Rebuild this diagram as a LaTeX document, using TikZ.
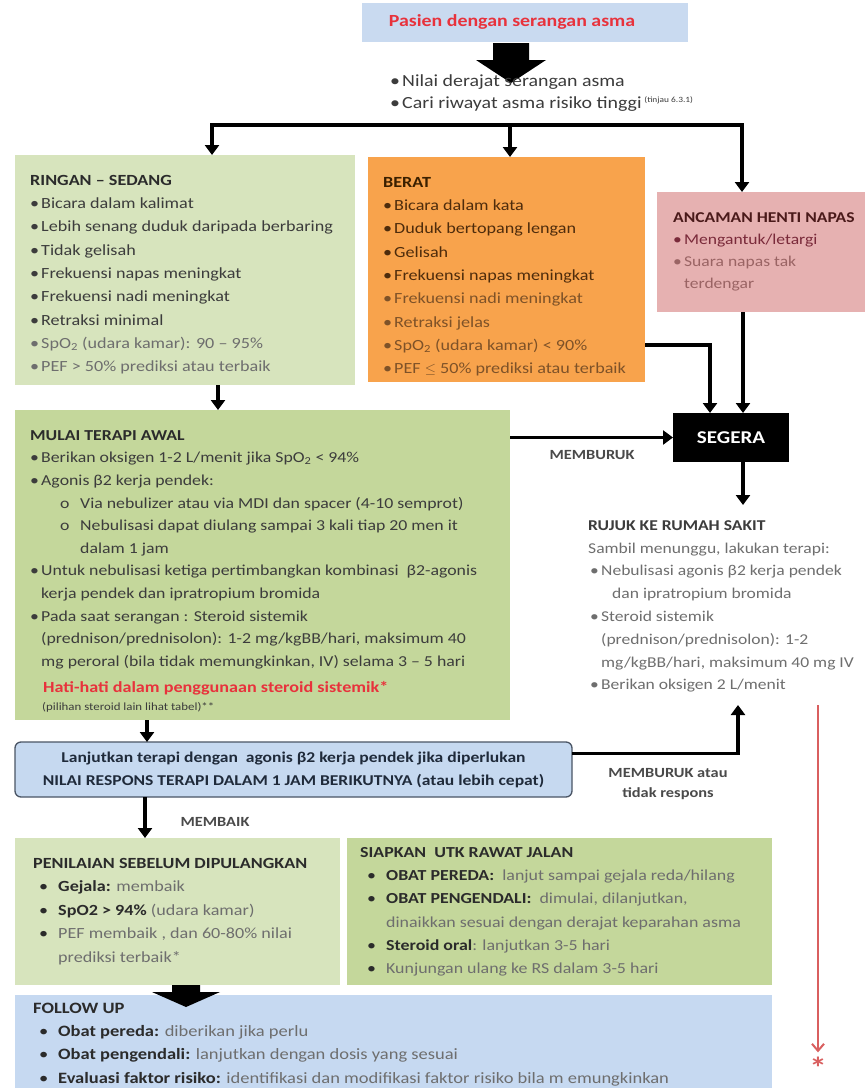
\documentclass[tikz,border=0pt]{standalone}
\usepackage{fontspec}
\setmainfont{Carlito}[FakeStretch=1.17]
\usetikzlibrary{arrows.meta}
\definecolor{cPas}{HTML}{C9DAF0}
\definecolor{cRed}{HTML}{E8323C}
\definecolor{cLG}{HTML}{D7E4BD}
\definecolor{cMG}{HTML}{C4D79B}
\definecolor{cOr}{HTML}{F8A34C}
\definecolor{cPk}{HTML}{E6B1B1}
\definecolor{cBl}{HTML}{C6D9F0}
\definecolor{cBd}{HTML}{4A5565}
\definecolor{cFU}{HTML}{C6D9F1}
\definecolor{cRL}{HTML}{D95F5F}
\definecolor{cHd}{HTML}{2B2B2B}
\definecolor{cTx}{HTML}{3C3C3C}
\definecolor{cLt}{HTML}{6E6E6E}
\definecolor{cBrH}{HTML}{3A2000}
\definecolor{cBrT}{HTML}{4E2C0C}
\definecolor{cBrL}{HTML}{7E5228}
\definecolor{cPkH}{HTML}{4A1A1A}
\definecolor{cPkT}{HTML}{7A2A3A}
\definecolor{cPkL}{HTML}{9A6464}
\definecolor{cLT}{HTML}{1F2A3A}
\definecolor{cLbl}{HTML}{4A4A4A}
\newcommand\fl{\rule{0pt}{13pt}}
\newcommand\bul{\makebox[11pt][l]{\textbullet}}
\newcommand\bulb{\makebox[19pt][l]{\textbullet}}
\begin{document}
\begin{tikzpicture}[x=1pt,y=-1pt,
  bx/.style={anchor=north west, inner sep=0pt, outer sep=0pt, draw=none},
  tx/.style={anchor=north west, inner sep=0pt, align=left},
  arr/.style={line width=3.5pt, -{Triangle[length=10pt,width=14pt]}},
  lbl/.style={font=\fontsize{14}{20}\selectfont\bfseries, text=cLbl, align=center},
  redarr/.style={draw=cRL, line width=2pt, -{Straight Barb[length=7pt,width=12pt]}}]
\useasboundingbox (0,0) rectangle (865,1088);
\fill[white] (0,0) rectangle (865,1088);

% top
\node[bx, fill=cPas, minimum width=326pt, minimum height=39pt] (pasien) at (362,3) {};
\node[font=\fontsize{17}{20}\selectfont\bfseries, text=cRed] (pasienT) at (512,22) {Pasien dengan serangan asma};
\fill (493,43) -- (529,43) -- (529,60) -- (546,60) -- (511,83) -- (476,60) -- (493,60) -- cycle;
\node[tx, font=\fontsize{17}{22}\selectfont, text=cTx] (assess) at (390,73)
 {\fl\makebox[12pt][l]{\textbullet}Nilai derajat serangan asma\\
  \makebox[12pt][l]{\textbullet}Cari riwayat asma risiko tinggi\,\raisebox{6pt}{\fontsize{8}{9}\selectfont (tinjau 6.3.1)}};

% boxes
\node[bx, fill=cLG, minimum width=340pt, minimum height=230pt] (ringan) at (15,155) {};
\node[bx, fill=cOr, minimum width=277pt, minimum height=225pt] (berat) at (368,157) {};
\node[bx, fill=cPk, minimum width=208pt, minimum height=120pt] (ancaman) at (657,192) {};
\node[bx, fill=black, minimum width=116pt, minimum height=49pt] (segera) at (673,413) {};
\node[font=\fontsize{18}{20}\selectfont\bfseries, text=white] (segeraT) at (segera.center) {SEGERA};
\node[bx, fill=cMG, minimum width=495pt, minimum height=310pt] (mulai) at (15,410) {};
\node[bx, fill=cBl, draw=cBd, rounded corners=6pt, line width=1.3pt, minimum width=557pt, minimum height=55pt,
      align=center, font=\fontsize{15}{23}\selectfont\bfseries, text=cLT] (lanjut) at (15,742)
 {Lanjutkan terapi dengan \ agonis β2 kerja pendek jika diperlukan\\NILAI RESPONS TERAPI DALAM 1 JAM BERIKUTNYA (atau lebih cepat)};
\node[bx, fill=cLG, minimum width=325pt, minimum height=147pt] (penilaian) at (15,838) {};
\node[bx, fill=cMG, minimum width=425pt, minimum height=147pt] (siapkan) at (347,838) {};
\node[bx, fill=cFU, minimum width=757pt, minimum height=93pt] (follow) at (15,995) {};

% box texts
\node[tx, font=\fontsize{15.5}{23.3}\selectfont, text=cTx] (ringanT) at (30,172)
 {\fl\textbf{\color{cHd}RINGAN – SEDANG}\\
  \bul Bicara dalam kalimat\\
  \bul Lebih senang duduk daripada berbaring\\
  \bul Tidak gelisah\\
  \bul Frekuensi napas meningkat\\
  \bul Frekuensi nadi meningkat\\
  \bul Retraksi minimal\\
  {\color{cLt}\bul SpO\textsubscript{2} (udara kamar): 90 – 95\%}\\
  {\color{cLt}\bul PEF > 50\% prediksi atau terbaik}};

\node[tx, font=\fontsize{15.5}{23.3}\selectfont, text=cBrT] (beratT) at (383,174)
 {\fl\textbf{\color{cBrH}BERAT}\\
  \bul Bicara dalam kata\\
  \bul Duduk bertopang lengan\\
  \bul Gelisah\\
  \bul Frekuensi napas meningkat\\
  {\color{cBrL}\bul Frekuensi nadi meningkat}\\
  {\color{cBrL}\bul Retraksi jelas}\\
  {\color{cBrL}\bul SpO\textsubscript{2} (udara kamar) < 90\%}\\
  {\color{cBrL}\bul PEF $\leq$ 50\% prediksi atau terbaik}};

\node[tx, font=\fontsize{15}{22}\selectfont, text=cPkT] (ancamanT) at (673,209)
 {\fl\textbf{\color{cPkH}ANCAMAN HENTI NAPAS}\\
  \bul Mengantuk/letargi\\
  {\color{cPkL}\bul Suara napas tak}\\
  {\color{cPkL}\hspace*{11pt}terdengar}};

\node[tx, font=\fontsize{15.2}{22.6}\selectfont, text=cTx] (mulaiT) at (30,427)
 {\fl\textbf{\color{cHd}MULAI TERAPI AWAL}\\
  \bul Berikan oksigen 1-2 L/menit jika SpO\textsubscript{2} < 94\%\\
  \bul Agonis β2 kerja pendek:\\
  \hspace*{30pt}\makebox[20pt][l]{o}Via nebulizer atau via MDI dan spacer (4-10 semprot)\\
  \hspace*{30pt}\makebox[20pt][l]{o}Nebulisasi dapat diulang sampai 3 kali tiap 20 men it\\
  \hspace*{50pt}dalam 1 jam\\
  \bul Untuk nebulisasi ketiga pertimbangkan kombinasi \ β2-agonis\\
  \hspace*{11pt}kerja pendek dan ipratropium bromida\\
  \bul Pada saat serangan : Steroid sistemik\\
  \hspace*{11pt}(prednison/prednisolon): 1-2 mg/kgBB/hari, maksimum 40\\
  \hspace*{11pt}mg peroral (bila tidak memungkinkan, IV) selama 3 – 5 hari};
\node[tx, font=\fontsize{15.5}{18}\selectfont\bfseries, text=cRed] (hati) at (43,679)
 {\fl Hati-hati dalam penggunaan steroid sistemik*};
\node[tx, font=\fontsize{11}{13}\selectfont, text=cTx] (pilihan) at (42,700)
 {\rule{0pt}{10pt}(pilihan steroid lain lihat tabel)**};

\node[tx, font=\fontsize{15}{22.8}\selectfont, text=cLt] (rujuk) at (588,517)
 {\fl\textbf{\color{cTx}RUJUK KE RUMAH SAKIT}\\
  Sambil menunggu, lakukan terapi:\\
  \hspace*{2pt}\bul Nebulisasi agonis β2 kerja pendek\\
  \hspace*{24pt}dan ipratropium bromida\\
  \hspace*{2pt}\bul Steroid sistemik\\
  \hspace*{13pt}(prednison/prednisolon): 1-2\\
  \hspace*{13pt}mg/kgBB/hari, maksimum 40 mg IV\\
  \hspace*{2pt}\bul Berikan oksigen 2 L/menit};

\node[tx, font=\fontsize{15.5}{23.5}\selectfont, text=cLt] (penilaianT) at (33,855)
 {\fl\textbf{\color{cHd}PENILAIAN SEBELUM DIPULANGKAN}\\
  \hspace*{6pt}{\color{cHd}\bulb}\textbf{\color{cHd}Gejala:} membaik\\
  \hspace*{6pt}{\color{cHd}\bulb}\textbf{\color{cHd}SpO2 > 94\%} (udara kamar)\\
  \hspace*{6pt}{\color{cHd}\bulb}PEF membaik , dan 60-80\% nilai\\
  \hspace*{25pt}prediksi terbaik*};

\node[tx, font=\fontsize{15.3}{23.3}\selectfont, text=cLt] (siapkanT) at (360,844)
 {\fl\textbf{\color{cHd}SIAPKAN \ UTK RAWAT JALAN}\\
  \hspace*{7pt}{\color{cHd}\bulb}\textbf{\color{cHd}OBAT PEREDA:} \ lanjut sampai gejala reda/hilang\\
  \hspace*{7pt}{\color{cHd}\bulb}\textbf{\color{cHd}OBAT PENGENDALI:} \ dimulai, dilanjutkan,\\
  \hspace*{26pt}dinaikkan sesuai dengan derajat keparahan asma\\
  \hspace*{7pt}{\color{cHd}\bulb}\textbf{\color{cHd}Steroid oral}: lanjutkan 3-5 hari\\
  \hspace*{7pt}{\color{cHd}\bulb}Kunjungan ulang ke RS dalam 3-5 hari};

\node[tx, font=\fontsize{15.8}{23.3}\selectfont, text=cLt] (followT) at (33,1000)
 {\fl\textbf{\color{cHd}FOLLOW UP}\\
  \hspace*{6pt}{\color{cHd}\bulb}\textbf{\color{cHd}Obat pereda:} diberikan jika perlu\\
  \hspace*{6pt}{\color{cHd}\bulb}\textbf{\color{cHd}Obat pengendali:} lanjutkan dengan dosis yang sesuai\\
  \hspace*{6pt}{\color{cHd}\bulb}\textbf{\color{cHd}Evaluasi faktor risiko:} identifikasi dan modifikasi faktor risiko bila m emungkinkan};

% connectors
\coordinate (barL) at (212,125);
\coordinate (barM) at (510,125);
\coordinate (barR) at (742,125);
\draw[arr] (barM) -| (ringan.north -| barL);
\draw[arr] (barM) -| (ancaman.north -| barR);
\draw[arr] (barM) -- (berat.north -| barM);

\coordinate (xa) at (218,0);
\draw[arr] (ringan.south -| xa) -- (mulai.north -| xa);
\draw[arr] (berat.east |- 0,345) -| ([xshift=-21pt]segera.north);
\draw[arr] ([xshift=12pt]segera.north |- ancaman.south) -- ([xshift=12pt]segera.north);
\draw[arr] (mulai.east |- segera.west) -- (segera.west);
\node[lbl] (lblMemburuk) at (592,455) {MEMBURUK};
\draw[arr, shorten >=12pt] ([xshift=12pt]segera.south) -- ([xshift=12pt]segera.south |- rujuk.north);

\coordinate (xb) at (147,0);
\draw[arr] (mulai.south -| xb) -- (lanjut.north -| xb);
\coordinate (rujukIn) at (738,705);
\draw[arr] ([yshift=16pt]lanjut.east) -| (rujukIn);
\node[lbl] (lblTidak) at (668,784) {MEMBURUK atau\\tidak respons};

\coordinate (xc) at (145,0);
\draw[arr] (lanjut.south -| xc) -- (penilaian.north -| xc);
\node[lbl] (lblMembaik) at (215,822) {MEMBAIK};

\fill (172,985) -- (200,985) -- (200,992) -- (220,992) -- (186,1007) -- (152,992) -- (172,992) -- cycle;

\coordinate (redTop) at (818,705);
\node[font=\fontsize{30}{32}\selectfont\bfseries, text=cRL, inner sep=0pt, anchor=base] (star) at (818,1078) {*};
\draw[redarr] (redTop) -- ([yshift=4pt]star.north);
\end{tikzpicture}
\end{document}
